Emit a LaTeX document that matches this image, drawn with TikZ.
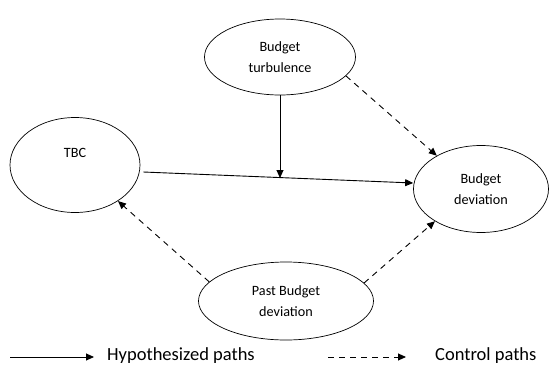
\documentclass[tikz,border=0pt]{standalone}
\usepackage{fontspec}
\setmainfont{Carlito}
\usetikzlibrary{shapes.geometric,arrows.meta}
\tikzset{
  nfont/.style={font=\fontsize{14.2}{21.5}\selectfont},
  ell/.style={draw, ellipse, inner sep=0pt, line width=0.7pt, align=center, nfont},
  arr/.style={line width=0.9pt, -{Triangle[length=8pt,width=7pt]}},
  darr/.style={arr, dashed, dash pattern=on 6pt off 5pt},
  legtext/.style={anchor=west, font=\fontsize{18.5}{20}\selectfont, inner sep=0pt}
}
\begin{document}
\begin{tikzpicture}[x=1pt,y=-1pt]
\useasboundingbox (0,0) rectangle (550,373);
\node[ell, minimum width=151pt, minimum height=76pt] (bt) at (280,57) {Budget\\turbulence};
\node[ell, minimum width=130pt, minimum height=95pt, label={[yshift=12pt,nfont]center:TBC}] (tbc) at (75,165) {};
\node[ell, minimum width=135pt, minimum height=87pt] (bd) at (481,189) {Budget\\deviation};
\node[ell, minimum width=175pt, minimum height=78pt] (pbd) at (286,301) {Past Budget\\deviation};
\draw[arr] ([shift={(3pt,-7pt)}]tbc.east) -- ([yshift=6pt]bd.west);
\coordinate (mid) at (280,178);
\draw[arr] (bt.south) -- (mid);
\draw[darr] (bt.-16) -- (bd.143);
\draw[darr] (pbd.166) -- (tbc.-40);
\draw[darr] (pbd.13) -- (bd.215);
\coordinate (l1a) at (10,357);
\coordinate (l1b) at (94,357);
\coordinate (l2a) at (328,357);
\coordinate (l2b) at (406,357);
\draw[arr] (l1a) -- (l1b);
\draw[darr] (l2a) -- (l2b);
\node[legtext] (t1) at (107,356) {Hypothesized paths};
\node[legtext] (t2) at (435,356) {Control paths};
\end{tikzpicture}
\end{document}
